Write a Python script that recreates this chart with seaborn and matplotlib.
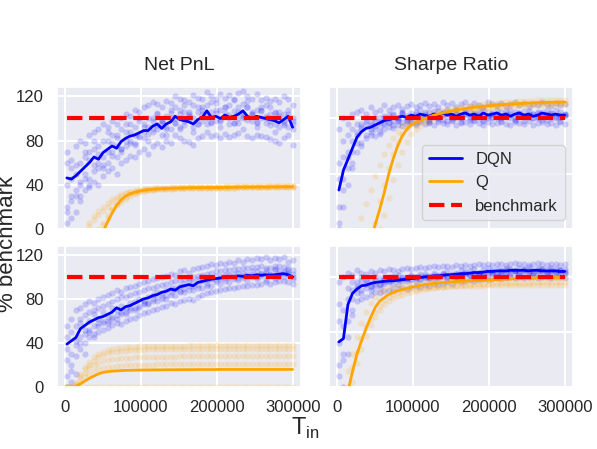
import numpy as np
import matplotlib
matplotlib.use("Agg")
import matplotlib.pyplot as plt
import seaborn as sns

# training sizes T_in (evenly spaced grid)
T_IN = list(range(3000, 300001, 5940))
BENCHMARK = 100

# ---------------- top row, Net PnL ----------------
PNL_A_DQN_LINE = [46, 45, 48, 52, 56, 60, 65, 63, 69, 72,
                  75, 73, 79, 82, 84, 85, 87, 89, 89, 93,
                  95, 91, 95, 97, 102, 99, 98, 97, 95, 99,
                  101, 107, 101, 102, 100, 103, 101, 102, 104, 107,
                  102, 100, 102, 101, 100, 99, 98, 96, 99, 102,
                  92]
PNL_A_DQN_RUNS = [
    [70, 62, 75, 80, 78, 85, 88, 90, 95, 92,
     98, 95, 100, 104, 102, 108, 106, 110, 112, 115,
     113, 110, 116, 114, 120, 118, 117, 115, 121, 119,
     118, 124, 120, 118, 122, 119, 121, 117, 123, 125,
     120, 118, 122, 117, 119, 116, 118, 115, 120, 118,
     112],
    [20, 25, 15, 30, 35, 38, 42, 40, 48, 52,
     55, 50, 60, 62, 66, 65, 70, 72, 68, 75,
     78, 74, 80, 78, 85, 82, 80, 79, 76, 82,
     84, 88, 84, 85, 82, 86, 83, 85, 87, 90,
     84, 82, 85, 84, 83, 81, 80, 78, 82, 85,
     76],
    [40, 55, 35, 60, 50, 70, 58, 75, 65, 80,
     70, 85, 72, 88, 80, 92, 84, 95, 86, 100,
     90, 98, 90, 105, 96, 108, 94, 104, 92, 106,
     98, 112, 96, 108, 98, 110, 95, 107, 100, 113,
     99, 106, 97, 110, 96, 104, 95, 102, 94, 108,
     90],
    [5, 30, 50, 40, 65, 45, 72, 55, 80, 60,
     85, 65, 90, 75, 95, 78, 98, 82, 100, 88,
     104, 85, 102, 90, 110, 92, 106, 100, 112, 95,
     110, 100, 115, 98, 108, 102, 112, 96, 110, 104,
     116, 98, 108, 100, 112, 94, 106, 92, 104, 100,
     95],
    [60, 45, 58, 42, 70, 62, 80, 68, 58, 88,
     78, 82, 70, 95, 88, 76, 100, 92, 80, 98,
     105, 96, 85, 108, 100, 90, 112, 102, 88, 110,
     104, 95, 106, 114, 92, 105, 100, 118, 96, 102,
     110, 104, 92, 108, 100, 110, 88, 106, 98, 92,
     100],
    [15, 10, 30, 25, 45, 40, 52, 60, 55, 70,
     66, 75, 72, 80, 78, 85, 83, 88, 92, 90,
     94, 98, 92, 100, 96, 104, 98, 106, 100, 95,
     108, 102, 97, 105, 99, 110, 103, 96, 106, 100,
     110, 104, 96, 107, 102, 98, 105, 100, 96, 104,
     98],
]
PNL_A_Q_LINE = [-75, -65, -55, -45, -36, -27, -18, -10, -3, 6,
                14, 21, 26, 29.5, 31.5, 33, 34, 34.8, 35.3, 35.7,
                36, 36.2, 36.4, 36.6, 36.7, 36.8, 36.9, 37.0, 37.1, 37.1,
                37.2, 37.3, 37.3, 37.4, 37.4, 37.5, 37.5, 37.6, 37.6, 37.7,
                37.7, 37.7, 37.8, 37.8, 37.8, 37.9, 37.9, 37.9, 38.0, 38.0,
                38.0]
PNL_A_Q_RUNS = [
    [-40, -30, -20, -12, -5, 2, 8, 12, 16, 20,
     24, 27, 30, 32, 33, 34.5, 35, 35.5, 36, 36.3,
     36.5, 36.7, 36.9, 37, 37.1, 37.2, 37.3, 37.4, 37.5, 37.5,
     37.6, 37.7, 37.7, 37.8, 37.8, 37.9, 37.9, 38, 38, 38,
     38.1, 38.1, 38.2, 38.2, 38.2, 38.3, 38.3, 38.3, 38.4, 38.4,
     38.4],
    [-90, -80, -70, -55, -40, -25, -10, 0, 5, 12,
     18, 22, 26, 29, 31, 32.5, 33.5, 34.2, 34.8, 35.2,
     35.5, 35.8, 36, 36.2, 36.4, 36.5, 36.6, 36.7, 36.8, 36.9,
     37, 37, 37.1, 37.1, 37.2, 37.2, 37.3, 37.3, 37.4, 37.4,
     37.5, 37.5, 37.5, 37.6, 37.6, 37.6, 37.7, 37.7, 37.7, 37.8,
     37.8],
    [-100, -85, -72, -60, -48, -35, -22, -8, 3, 10,
     17, 21, 24, 27, 30, 31.5, 33, 34, 34.8, 35.3,
     35.7, 36, 36.2, 36.4, 36.5, 36.6, 36.7, 36.8, 36.9, 37,
     37, 37.1, 37.1, 37.2, 37.2, 37.3, 37.3, 37.3, 37.4, 37.4,
     37.4, 37.5, 37.5, 37.5, 37.5, 37.6, 37.6, 37.6, 37.6, 37.7,
     37.7],
    [-60, -45, -30, -15, -3, 5, 11, 16, 20, 23,
     27, 29, 31, 32.5, 33.5, 34.5, 35.2, 35.8, 36.2, 36.5,
     36.8, 37, 37.2, 37.4, 37.5, 37.6, 37.7, 37.8, 37.9, 38,
     38, 38.1, 38.1, 38.2, 38.2, 38.3, 38.3, 38.4, 38.4, 38.4,
     38.5, 38.5, 38.5, 38.6, 38.6, 38.6, 38.6, 38.7, 38.7, 38.7,
     38.7],
]

# ---------------- top row, Sharpe Ratio ----------------
SHARPE_A_DQN_LINE = [35, 53, 63, 73, 83, 88, 91, 92, 94, 96,
                     98, 99, 100, 101, 102, 101, 103, 102, 104, 103,
                     102, 104, 103, 105, 103, 104, 102, 104, 105, 103,
                     104, 102, 105, 103, 104, 105, 103, 104, 102, 104,
                     105, 103, 104, 102, 103, 105, 104, 103, 104, 103,
                     103]
SHARPE_A_DQN_RUNS = [
    [90, 100, 95, 104, 106, 108, 104, 110, 106, 108,
     112, 108, 110, 112, 109, 111, 113, 110, 112, 114,
     111, 113, 110, 115, 112, 114, 110, 113, 115, 111,
     114, 112, 110, 115, 113, 112, 114, 111, 113, 115,
     112, 114, 110, 113, 112, 115, 113, 111, 114, 112,
     113],
    [5, 20, 40, 55, 70, 78, 82, 85, 84, 88,
     90, 92, 91, 94, 93, 95, 96, 94, 97, 95,
     96, 94, 97, 96, 95, 98, 94, 96, 97, 95,
     98, 96, 94, 97, 95, 96, 98, 95, 94, 97,
     96, 95, 98, 94, 96, 97, 95, 96, 94, 97,
     95],
    [20, 45, 70, 60, 88, 95, 98, 90, 100, 97,
     102, 96, 104, 100, 106, 98, 105, 101, 108, 100,
     106, 103, 107, 99, 105, 102, 108, 100, 104, 106,
     101, 107, 103, 100, 105, 108, 102, 104, 100, 106,
     103, 107, 101, 104, 105, 102, 108, 103, 100, 106,
     104],
    [60, 80, 55, 90, 78, 92, 85, 97, 90, 100,
     95, 103, 98, 100, 104, 99, 102, 106, 100, 104,
     98, 107, 101, 103, 108, 100, 104, 102, 106, 99,
     105, 101, 108, 102, 104, 100, 106, 103, 108, 101,
     105, 102, 107, 104, 100, 106, 103, 105, 108, 101,
     104],
    [0, 35, 65, 80, 85, 75, 95, 88, 93, 86,
     96, 100, 94, 98, 97, 102, 100, 96, 99, 102,
     97, 101, 99, 104, 98, 102, 100, 97, 103, 101,
     99, 104, 98, 102, 100, 103, 97, 101, 104, 99,
     102, 98, 103, 100, 101, 99, 104, 100, 102, 98,
     103],
    [45, 65, 85, 70, 95, 90, 100, 94, 98, 92,
     100, 97, 103, 99, 105, 100, 98, 104, 101, 106,
     99, 103, 100, 106, 102, 99, 105, 101, 107, 100,
     104, 102, 99, 106, 101, 104, 100, 107, 102, 99,
     105, 101, 104, 100, 106, 102, 99, 105, 101, 103,
     102],
]
SHARPE_A_Q_LINE = [-115, -100, -85, -70, -55, -40, -26, -12, 3, 17,
                   32, 49, 63, 75, 84, 90, 94, 96.5, 98, 100,
                   101.5, 103, 104, 105, 106, 107, 107.7, 108.4, 109, 109.6,
                   110.1, 110.6, 111, 111.4, 111.8, 112.2, 112.5, 112.8, 113.1, 113.4,
                   113.6, 113.8, 114, 114.2, 114.4, 114.5, 114.6, 114.7, 114.8, 114.9,
                   115]
SHARPE_A_Q_RUNS = [
    [-60, -45, -30, -15, -2, 10, 22, 35, 48, 58,
     68, 76, 82, 88, 93, 96, 98, 100, 101, 102.5,
     104, 105, 106, 107, 108, 109, 109.7, 110.4, 111, 111.6,
     112.1, 112.6, 113, 113.4, 113.8, 114.2, 114.5, 114.8, 115.1, 115.4,
     115.6, 115.8, 116, 116.2, 116.4, 116.5, 116.6, 116.7, 116.8, 116.9,
     117],
    [-150, -130, -110, -90, -72, -55, -35, -15, 5, 25,
     40, 55, 68, 78, 86, 91, 94, 96, 97.5, 99.5,
     101, 102.5, 103.5, 104.5, 105.5, 106.5, 107.2, 107.9, 108.5, 109.1,
     109.6, 110.1, 110.5, 110.9, 111.3, 111.7, 112, 112.3, 112.6, 112.9,
     113.1, 113.3, 113.5, 113.7, 113.9, 114, 114.1, 114.2, 114.3, 114.4,
     114.5],
    [-130, -120, -100, -85, -65, -50, -38, -25, -10, 0,
     12, 28, 44, 58, 70, 79, 86, 90, 93, 96,
     98, 100, 101.5, 102.8, 104, 105, 105.7, 106.4, 107, 107.6,
     108.1, 108.6, 109, 109.4, 109.8, 110.2, 110.5, 110.8, 111.1, 111.4,
     111.6, 111.8, 112, 112.2, 112.4, 112.5, 112.6, 112.7, 112.8, 112.9,
     113],
]

# ---------------- bottom row, Net PnL ----------------
PNL_B_DQN_LINE = [39, 42, 45, 53, 56, 59, 61, 63, 64, 66,
                  68, 72, 70, 73, 74, 76, 78, 80, 81, 83,
                  84, 86, 87, 89, 88, 91, 92, 93, 92, 95,
                  96, 97, 98, 98.5, 99, 100, 99.5, 100, 101, 100.5,
                  101.5, 101, 102, 101.5, 102, 101.5, 102, 102.5, 103, 102,
                  100]
PNL_B_DQN_RUNS = [
    [55, 62, 70, 72, 75, 78, 76, 80, 82, 84,
     85, 88, 86, 90, 91, 92, 94, 95, 96, 98,
     99, 100, 101, 103, 102, 105, 106, 104, 107, 108,
     109, 110, 112, 111, 113, 112, 114, 113, 115, 114,
     116, 115, 117, 116, 118, 115, 117, 116, 118, 114,
     115],
    [10, 20, 28, 35, 40, 45, 48, 50, 52, 54,
     56, 58, 57, 60, 62, 63, 65, 67, 68, 70,
     71, 73, 74, 76, 75, 78, 79, 80, 79, 82,
     84, 85, 86, 87, 88, 89, 90, 90, 91, 92,
     92, 93, 93, 94, 95, 94, 95, 96, 96, 95,
     94],
    [35, 50, 38, 62, 48, 68, 55, 72, 58, 75,
     62, 80, 66, 82, 70, 85, 72, 88, 76, 90,
     78, 93, 80, 95, 83, 97, 86, 99, 88, 101,
     90, 103, 92, 105, 94, 106, 95, 107, 97, 108,
     96, 109, 98, 110, 97, 108, 99, 110, 100, 108,
     98],
    [25, 15, 55, 45, 65, 52, 70, 58, 74, 60,
     78, 65, 82, 68, 84, 72, 86, 75, 90, 78,
     92, 80, 94, 84, 96, 86, 98, 88, 100, 90,
     102, 92, 104, 95, 105, 96, 106, 98, 107, 99,
     108, 100, 109, 101, 108, 102, 110, 103, 109, 104,
     106],
    [45, 30, 42, 58, 52, 60, 66, 62, 68, 64,
     72, 70, 74, 72, 76, 78, 80, 76, 82, 84,
     86, 82, 88, 90, 88, 92, 94, 96, 92, 98,
     100, 97, 99, 101, 98, 102, 100, 103, 99, 104,
     101, 105, 100, 103, 104, 102, 106, 101, 105, 103,
     100],
    [0, 5, 12, 40, 30, 50, 45, 55, 60, 58,
     64, 62, 68, 66, 72, 70, 74, 78, 75, 80,
     82, 85, 83, 86, 90, 87, 89, 92, 95, 93,
     96, 94, 98, 97, 100, 99, 102, 100, 104, 101,
     103, 102, 105, 104, 106, 103, 107, 105, 104, 106,
     103],
]
PNL_B_Q_LINE = [0, 0, 0.5, 3, 5.5, 8, 10, 12, 13.3, 14,
                14.4, 14.7, 14.9, 15.1, 15.2, 15.3, 15.4, 15.5, 15.5, 15.6,
                15.6, 15.6, 15.7, 15.7, 15.7, 15.8, 15.8, 15.8, 15.8, 15.9,
                15.9, 15.9, 15.9, 15.9, 16, 16, 16, 16, 16, 16,
                16, 16, 16, 16, 16, 16, 16, 16, 16, 16,
                16]
PNL_B_Q_RUNS = [
    [0, 0, 4, 12, 18, 23, 27, 30, 32, 33.5,
     34.5, 35.2, 35.8, 36.2, 36.5, 36.8, 37, 37.2, 37.3, 37.4,
     37.5, 37.5, 37.6, 37.6, 37.7, 37.7, 37.7, 37.8, 37.8, 37.8,
     37.8, 37.9, 37.9, 37.9, 37.9, 38, 38, 38, 38, 38,
     38, 38, 38, 38, 38, 38, 38, 38, 38, 38,
     38],
    [0, 0, 3, 10, 16, 20, 24, 27, 29, 30.5,
     31.5, 32.2, 32.7, 33.1, 33.4, 33.6, 33.8, 34, 34.1, 34.2,
     34.3, 34.3, 34.4, 34.4, 34.5, 34.5, 34.5, 34.6, 34.6, 34.6,
     34.6, 34.7, 34.7, 34.7, 34.7, 34.7, 34.8, 34.8, 34.8, 34.8,
     34.8, 34.8, 34.8, 34.8, 34.8, 34.8, 34.8, 34.8, 34.8, 34.8,
     34.8],
    [0, 0, 2, 8, 13, 17, 20, 22, 23.5, 24.5,
     25.2, 25.8, 26.2, 26.5, 26.8, 27, 27.2, 27.3, 27.4, 27.5,
     27.6, 27.6, 27.7, 27.7, 27.7, 27.8, 27.8, 27.8, 27.8, 27.9,
     27.9, 27.9, 27.9, 27.9, 28, 28, 28, 28, 28, 28,
     28, 28, 28, 28, 28, 28, 28, 28, 28, 28,
     28],
    [0, 0, 1, 5, 9, 12, 14.5, 16, 17.2, 18,
     18.6, 19, 19.3, 19.6, 19.8, 20, 20.1, 20.2, 20.3, 20.4,
     20.5, 20.5, 20.6, 20.6, 20.7, 20.7, 20.7, 20.8, 20.8, 20.8,
     20.8, 20.9, 20.9, 20.9, 20.9, 21, 21, 21, 21, 21,
     21, 21, 21, 21, 21, 21, 21, 21, 21, 21,
     21],
    [0, 0, 0, 0, 0, 0, 0, 0, 0, 0,
     0, 0, 0, 0, 0, 0, 0, 0, 0, 0,
     0, 0, 0, 0, 0, 0, 0, 0, 0, 0,
     0, 0, 0, 0, 0, 0, 0, 0, 0, 0,
     0, 0, 0, 0, 0, 0, 0, 0, 0, 0,
     0],
]

# ---------------- bottom row, Sharpe Ratio ----------------
SHARPE_B_DQN_LINE = [41, 44, 75, 85, 89, 92, 92.5, 94, 95, 95.5,
                     96, 96.5, 96.5, 97, 97.5, 98, 98.5, 99, 99.5, 100,
                     100.5, 101, 101, 101.5, 102, 102, 102.5, 103, 103, 103.5,
                     104, 104, 104.5, 105, 105, 105.5, 105.5, 105.5, 106, 106,
                     106, 106, 105.5, 106, 106, 105.5, 105.5, 105.5, 105.5, 105,
                     105]
SHARPE_B_DQN_RUNS = [
    [95, 100, 104, 102, 106, 104, 103, 105, 104, 106,
     105, 107, 106, 105, 107, 108, 107, 108, 109, 108,
     109, 110, 109, 110, 110, 109, 111, 110, 111, 110,
     111, 112, 111, 112, 111, 112, 112, 111, 112, 113,
     112, 112, 111, 112, 113, 112, 111, 112, 112, 111,
     112],
    [10, 25, 45, 70, 78, 80, 82, 84, 86, 85,
     87, 88, 87, 89, 90, 89, 91, 92, 91, 93,
     92, 94, 93, 94, 95, 94, 96, 95, 96, 97,
     96, 97, 98, 97, 98, 99, 98, 99, 100, 99,
     100, 99, 100, 100, 99, 100, 100, 99, 100, 100,
     99],
    [60, 30, 90, 80, 95, 88, 98, 92, 100, 94,
     99, 96, 101, 97, 100, 98, 102, 99, 101, 103,
     100, 104, 101, 103, 105, 102, 104, 106, 103, 105,
     107, 104, 106, 108, 105, 107, 106, 108, 107, 106,
     108, 107, 109, 106, 108, 107, 106, 108, 107, 106,
     107],
    [20, 70, 60, 95, 85, 100, 90, 97, 92, 99,
     94, 97, 93, 98, 96, 99, 97, 100, 98, 101,
     99, 100, 102, 100, 101, 103, 101, 102, 104, 102,
     103, 104, 103, 105, 104, 103, 105, 104, 106, 105,
     104, 106, 105, 104, 106, 105, 104, 106, 105, 104,
     105],
    [40, 0, 80, 88, 90, 96, 94, 91, 96, 93,
     97, 95, 98, 94, 99, 96, 98, 100, 97, 99,
     101, 98, 100, 102, 99, 101, 100, 103, 102, 101,
     104, 102, 103, 101, 104, 103, 102, 104, 103, 105,
     104, 103, 105, 104, 103, 105, 104, 103, 104, 105,
     104],
    [75, 55, 30, 65, 92, 85, 96, 88, 94, 90,
     95, 100, 97, 102, 98, 99, 101, 96, 103, 100,
     98, 102, 99, 104, 100, 101, 103, 99, 105, 102,
     100, 104, 102, 103, 105, 101, 104, 106, 102, 105,
     103, 106, 104, 102, 105, 107, 103, 105, 104, 106,
     104],
]
SHARPE_B_Q_LINE = [-40, -22, -4, 14, 30, 42, 53, 63, 72, 78,
                   81, 84, 86, 87.5, 88.5, 89.5, 90.5, 91.5, 92.3, 93,
                   93.6, 94.1, 94.5, 94.9, 95.2, 95.5, 95.8, 96, 96.2, 96.4,
                   96.6, 96.8, 97, 97.2, 97.4, 97.6, 97.8, 98, 98.2, 98.4,
                   98.6, 98.8, 99, 99.1, 99.2, 99.3, 99.4, 99.5, 99.5, 99.6,
                   99.6]
SHARPE_B_Q_RUNS = [
    [-20, 0, 15, 30, 45, 58, 68, 76, 82, 86,
     88, 89.5, 90.5, 91.5, 92.3, 93, 93.6, 94.1, 94.6, 95,
     95.4, 95.8, 96.1, 96.4, 96.7, 97, 97.2, 97.4, 97.6, 97.8,
     98, 98.2, 98.4, 98.5, 98.6, 98.7, 98.8, 98.9, 99, 99.1,
     99.2, 99.3, 99.4, 99.5, 99.5, 99.6, 99.6, 99.7, 99.7, 99.8,
     99.8],
    [-60, -40, -15, 5, 22, 35, 46, 56, 64, 70,
     75, 78, 80.5, 82.5, 84, 85.5, 86.5, 87.5, 88.3, 89,
     89.6, 90.1, 90.6, 91, 91.4, 91.8, 92.1, 92.4, 92.7, 93,
     93.2, 93.4, 93.6, 93.8, 94, 94.2, 94.3, 94.4, 94.5, 94.6,
     94.7, 94.8, 94.9, 95, 95, 95.1, 95.1, 95.2, 95.2, 95.3,
     95.3],
    [-45, -25, 0, 18, 32, 44, 55, 62, 68, 74,
     79, 82, 84.5, 86, 87.2, 88, 88.6, 89.1, 89.5, 89.9,
     90.2, 90.5, 90.8, 91, 91.2, 91.4, 91.6, 91.7, 91.8, 91.9,
     92, 92.1, 92.2, 92.3, 92.4, 92.5, 92.5, 92.6, 92.6, 92.7,
     92.7, 92.8, 92.8, 92.9, 92.9, 93, 93, 93, 93.1, 93.1,
     93.1],
]

TITLES = ["Net PnL", "Sharpe Ratio"]
XTICKS = [0, 100000, 200000, 300000]
YTICKS_LEFT = [0, 40, 80, 120]
YTICKS_RIGHT = [0, 50, 100]

sns.set_theme(style="darkgrid", rc={"grid.linewidth": 1.5})
plt.rcParams["font.family"] = ["Liberation Sans", "DejaVu Sans"]
plt.rcParams["mathtext.fontset"] = "custom"
plt.rcParams["mathtext.rm"] = "Liberation Sans"


def draw_panel(ax, dqn_runs, dqn_line, q_runs, q_line):
    sns.scatterplot(x=np.tile(T_IN, len(dqn_runs)), y=np.concatenate(dqn_runs),
                    color="blue", alpha=0.17, s=20, linewidth=0, ax=ax)
    sns.scatterplot(x=np.tile(T_IN, len(q_runs)), y=np.concatenate(q_runs),
                    color="orange", alpha=0.17, s=20, linewidth=0, ax=ax)
    sns.lineplot(x=T_IN, y=dqn_line, color="blue", lw=2, label="DQN", ax=ax)
    sns.lineplot(x=T_IN, y=q_line, color="orange", lw=2, label="Q", ax=ax)
    sns.lineplot(x=T_IN, y=[BENCHMARK] * len(T_IN), color="red", lw=3,
                 ls="--", label="benchmark", ax=ax)


fig, axes = plt.subplots(2, 2, figsize=(5.97, 4.49), dpi=100)
fig.subplots_adjust(left=0.0955, right=0.9598, bottom=0.138, top=0.806,
                    wspace=0.115, hspace=0.12)

draw_panel(axes[0, 0], PNL_A_DQN_RUNS, PNL_A_DQN_LINE, PNL_A_Q_RUNS, PNL_A_Q_LINE)
draw_panel(axes[0, 1], SHARPE_A_DQN_RUNS, SHARPE_A_DQN_LINE, SHARPE_A_Q_RUNS, SHARPE_A_Q_LINE)
draw_panel(axes[1, 0], PNL_B_DQN_RUNS, PNL_B_DQN_LINE, PNL_B_Q_RUNS, PNL_B_Q_LINE)
draw_panel(axes[1, 1], SHARPE_B_DQN_RUNS, SHARPE_B_DQN_LINE, SHARPE_B_Q_RUNS, SHARPE_B_Q_LINE)

for i in range(2):
    for j in range(2):
        ax = axes[i, j]
        leg = ax.get_legend()
        if leg is not None:
            leg.remove()
        ax.set_xlim(-10000, 311000)
        ax.set_ylim(0, 128.5)
        ax.set_xticks(XTICKS)
        ax.set_xlabel("")
        ax.set_ylabel("")
        ax.tick_params(labelsize=12)
        if j == 0:
            ax.set_yticks(YTICKS_LEFT)
        else:
            ax.set_yticks(YTICKS_RIGHT)
            ax.set_yticklabels([])
        if i == 0:
            ax.set_xticklabels([])
            ax.set_title(TITLES[j], fontsize=14, pad=12)

axes[0, 1].legend(loc="lower right", fontsize=12)

fig.text(0.511, 0.031, r"$\mathrm{T}_{\mathrm{in}}$", fontsize=17,
         ha="center", va="baseline")
fig.text(0.0297, 0.4577, "% benchmark", fontsize=16, rotation=90,
         ha="right", va="center")

fig.savefig("out.png", dpi=100)
